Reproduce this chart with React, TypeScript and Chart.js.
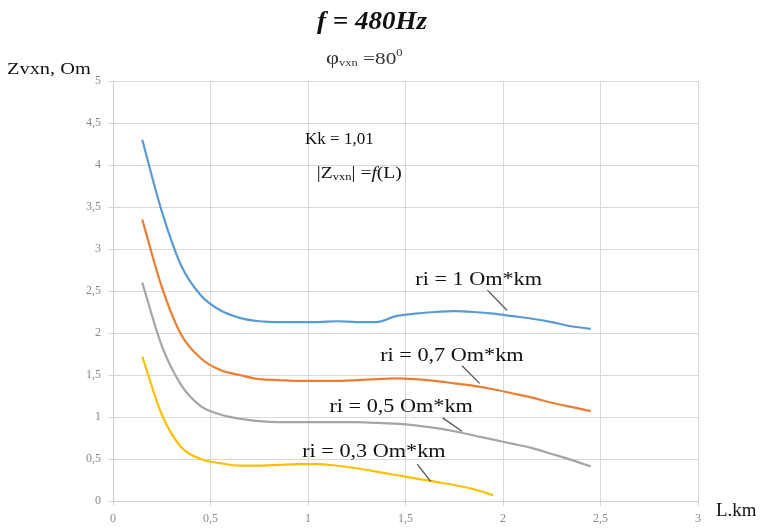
import React, { useEffect, useRef } from "react";
import { Chart, registerables } from "chart.js";

Chart.register(...registerables);

// ---- data ----
const lengthKm = [0.15, 0.25, 0.35, 0.45, 0.55, 0.65, 0.75, 0.85, 0.95, 1.05, 1.15, 1.25, 1.35, 1.45, 1.55, 1.65, 1.75, 1.85, 1.95, 2.05, 2.15, 2.25, 2.35, 2.45];
const zRi1 = [4.3, 3.45, 2.8, 2.45, 2.27, 2.18, 2.14, 2.13, 2.13, 2.13, 2.14, 2.13, 2.13, 2.2, 2.23, 2.25, 2.26, 2.25, 2.23, 2.2, 2.17, 2.13, 2.08, 2.05];
const zRi07 = [3.35, 2.55, 1.98, 1.7, 1.56, 1.5, 1.45, 1.44, 1.43, 1.43, 1.43, 1.44, 1.45, 1.46, 1.45, 1.43, 1.4, 1.37, 1.33, 1.28, 1.23, 1.17, 1.12, 1.07];
const zRi05 = [2.6, 1.85, 1.38, 1.13, 1.03, 0.98, 0.95, 0.94, 0.94, 0.94, 0.94, 0.94, 0.93, 0.92, 0.9, 0.87, 0.83, 0.78, 0.73, 0.68, 0.63, 0.56, 0.49, 0.41];
const zRi03 = [1.72, 1.03, 0.64, 0.5, 0.45, 0.42, 0.42, 0.43, 0.44, 0.44, 0.42, 0.39, 0.35, 0.31, 0.27, 0.23, 0.19, 0.14, 0.07];

const seriesNames = ["ri = 1 Om*km", "ri = 0,7 Om*km", "ri = 0,5 Om*km", "ri = 0,3 Om*km"];
const seriesValues = [zRi1, zRi07, zRi05, zRi03];
const seriesColors = ["#5b9bd5", "#ed7d31", "#a5a5a5", "#ffc000"];

// label anchors (data coords: left x, middle y) and leader lines (data coords)
const labelAnchorX = [1.55, 1.37, 1.11, 0.97];
const labelAnchorY = [2.65, 1.75, 1.14, 0.61];
const leaderFrom = [[1.92, 2.51], [1.79, 1.61], [1.69, 0.99], [1.56, 0.44]];
const leaderTo = [[2.02, 2.27], [1.88, 1.4], [1.79, 0.83], [1.63, 0.23]];

const xMin = 0, xMax = 3, xStep = 0.5;
const yMin = 0, yMax = 5, yStep = 0.5;

const SERIF = "'Liberation Serif', 'Times New Roman', serif";

type Seg = { t: string; size: number; dy?: number; style?: string };

function drawRich(ctx: CanvasRenderingContext2D, x: number, y: number, segs: Seg[], sx = 1, align: "left" | "center" = "left") {
  ctx.save();
  ctx.textAlign = "left";
  let total = 0;
  for (const s of segs) {
    ctx.font = `${s.style || ""} ${s.size}px ${SERIF}`;
    total += ctx.measureText(s.t).width;
  }
  ctx.translate(x, y);
  ctx.scale(sx, 1);
  let cx = align === "center" ? -total / 2 : 0;
  for (const s of segs) {
    ctx.font = `${s.style || ""} ${s.size}px ${SERIF}`;
    ctx.fillText(s.t, cx, s.dy || 0);
    cx += ctx.measureText(s.t).width;
  }
  ctx.restore();
}

const textPlugin = {
  id: "texts",
  afterDraw(chart: any) {
    const ctx: CanvasRenderingContext2D = chart.ctx;
    const xs = chart.scales.x;
    const ys = chart.scales.y;
    ctx.save();
    ctx.fillStyle = "#111";
    ctx.textBaseline = "alphabetic";

    // title
    drawRich(ctx, 372, 29, [{ t: "f = 480Hz", size: 25, style: "italic bold" }], 1.08, "center");

    // phi
    ctx.fillStyle = "#333";
    drawRich(ctx, 326, 64, [
      { t: "φ", size: 18 },
      { t: "vxn", size: 10, dy: 2 },
      { t: " =80", size: 17 },
      { t: "0", size: 10, dy: -8 },
    ], 1.25);
    ctx.fillStyle = "#111";

    // y axis title
    drawRich(ctx, 7, 74, [{ t: "Zvxn, Om", size: 17 }], 1.2);

    // x axis title
    drawRich(ctx, 716, 516, [{ t: "L.km", size: 18 }], 1.05);

    // Kk and |Z|
    drawRich(ctx, xs.getPixelForValue(0.985), ys.getPixelForValue(4.32) + 6, [{ t: "Kk = 1,01", size: 17 }]);
    drawRich(ctx, xs.getPixelForValue(1.045), ys.getPixelForValue(3.92) + 6, [
      { t: "|Z", size: 17 },
      { t: "vxn", size: 11, dy: 2 },
      { t: "| =", size: 17 },
      { t: "f", size: 17, style: "italic" },
      { t: "(L)", size: 17 },
    ], 1.15);

    // series labels + leaders
    seriesNames.forEach((name, i) => {
      ctx.fillStyle = "#111";
      drawRich(ctx, xs.getPixelForValue(labelAnchorX[i]), ys.getPixelForValue(labelAnchorY[i]) + 7, [{ t: name, size: 19 }], 1.17);
      ctx.strokeStyle = "#555";
      ctx.lineWidth = 1.3;
      ctx.beginPath();
      ctx.moveTo(xs.getPixelForValue(leaderFrom[i][0]), ys.getPixelForValue(leaderFrom[i][1]));
      ctx.lineTo(xs.getPixelForValue(leaderTo[i][0]), ys.getPixelForValue(leaderTo[i][1]));
      ctx.stroke();
    });
    ctx.restore();
  },
};

const fmt = (v: any) => String(v).replace(".", ",");

export default function App() {
  const ref = useRef<HTMLCanvasElement | null>(null);
  useEffect(() => {
    if (!ref.current) return;
    const chart = new Chart(ref.current, {
      type: "line",
      data: {
        datasets: seriesValues.map((vals, i) => ({
          label: seriesNames[i],
          data: vals.map((v, j) => ({ x: lengthKm[j], y: v })),
          borderColor: seriesColors[i],
          backgroundColor: seriesColors[i],
          borderWidth: 2.2,
          pointRadius: 0,
          tension: 0.4,
          cubicInterpolationMode: "monotone" as const,
          fill: false,
        })),
      },
      options: {
        responsive: false,
        animation: false,
        layout: { padding: { top: 81, right: 62, left: 0, bottom: 0 } },
        plugins: { legend: { display: false }, tooltip: { enabled: false }, title: { display: false } },
        scales: {
          x: {
            type: "linear",
            min: xMin,
            max: xMax,
            ticks: { stepSize: xStep, color: "#8a8a8a", font: { family: SERIF, size: 12 }, padding: 6, callback: fmt, maxRotation: 0 },
            grid: { color: "#d9d9d9", tickLength: 5, lineWidth: 1 },
            border: { color: "#d0d0d0" },
            afterFit: (s: any) => { s.height = 27; },
          },
          y: {
            min: yMin,
            max: yMax,
            ticks: { stepSize: yStep, color: "#8a8a8a", font: { family: SERIF, size: 12 }, padding: 7, callback: fmt },
            grid: { color: "#d9d9d9", tickLength: 5, lineWidth: 1 },
            border: { color: "#d0d0d0" },
            afterFit: (s: any) => { s.width = 113; },
          },
        },
      },
      plugins: [textPlugin],
    });
    return () => chart.destroy();
  }, []);
  return (
    <div style={{ position: "absolute", left: 0, top: 0, width: 760, height: 528, background: "#fff" }}>
      <canvas ref={ref} width={760} height={528} style={{ display: "block" }} />
    </div>
  );
}
